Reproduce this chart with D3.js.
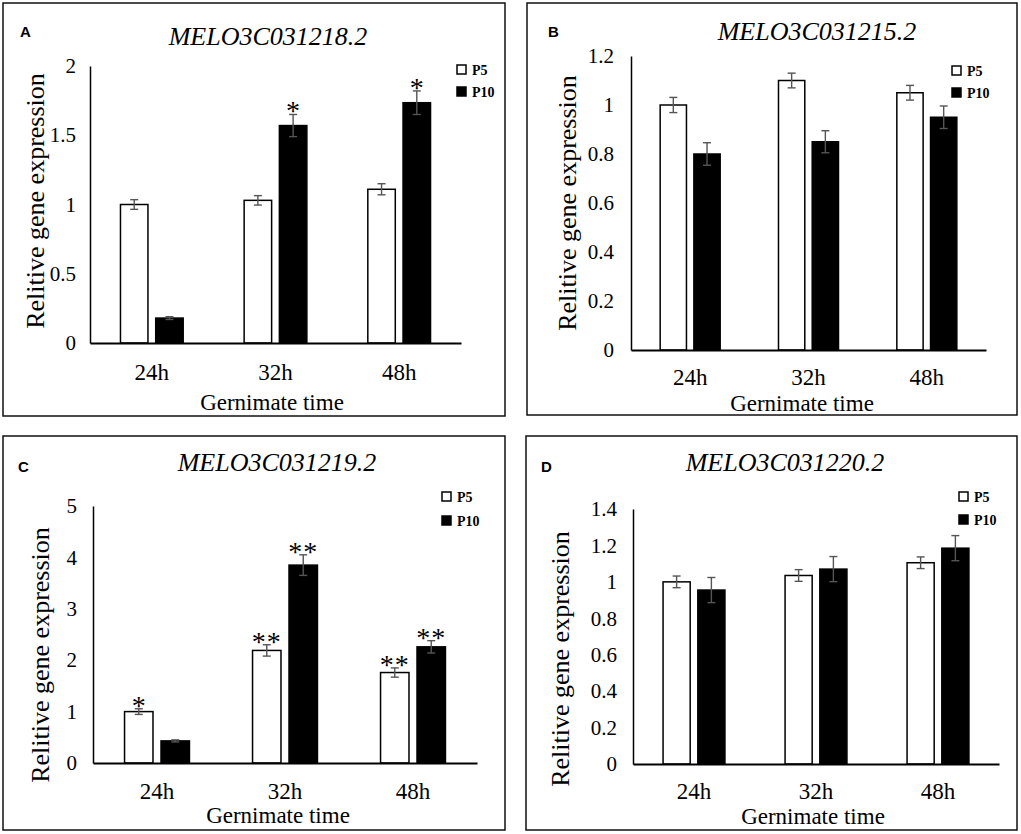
<!DOCTYPE html>
<html>
<head>
<meta charset="utf-8">
<script src="https://cdn.jsdelivr.net/npm/d3@7"></script>
<style>
  body { margin: 0; background: #fff; }
  svg { display: block; }
</style>
</head>
<body>
<svg id="chart" width="1021" height="834"></svg>
<script>
// data
const categories = ['24h', '32h', '48h'];
const seriesNames = ['P5', 'P10'];
const panelTags = ['A', 'B', 'C', 'D'];
const genes = ['MELO3C031218.2', 'MELO3C031215.2', 'MELO3C031219.2', 'MELO3C031220.2'];
const yMaxes = [2, 1.2, 5, 1.4];
const yTickSteps = [0.5, 0.2, 1, 0.2];
const p5Values = [[1.00, 1.03, 1.11], [1.00, 1.10, 1.05], [1.00, 2.19, 1.76], [1.00, 1.035, 1.105]];
const p5Errors = [[0.035, 0.034, 0.04], [0.031, 0.03, 0.03], [0.055, 0.11, 0.09], [0.032, 0.032, 0.032]];
const p10Values = [[0.18, 1.57, 1.735], [0.80, 0.85, 0.95], [0.43, 3.85, 2.26], [0.955, 1.07, 1.185]];
const p10Errors = [[0.01, 0.08, 0.085], [0.046, 0.045, 0.046], [0.02, 0.2, 0.12], [0.069, 0.069, 0.069]];
const p5Marks = [['', '', ''], ['', '', ''], ['*', '**', '**'], ['', '', '']];
const p10Marks = [['', '*', '*'], ['', '', ''], ['', '**', '**'], ['', '', '']];
const xTitle = 'Gernimate time';
const yTitle = 'Relitive gene expression';

const serif = '"Liberation Serif", "Times New Roman", serif';
const sans = '"Liberation Sans", Arial, sans-serif';

// panel geometry
const layout = [
    { frame: [3, 3, 505, 416], plot: [90, 461, 66, 343], title: [268, 45], tag: [20, 37],
      legend: [457, 65, 87], yLab: [36, 201], tickX: 76, xTickY: 380, xLab: [272, 410] },
    { frame: [527, 3, 1017, 415], plot: [631, 986, 56, 350], title: [817, 40], tag: [548, 37],
      legend: [952, 66, 88], yLab: [568, 203], tickX: 614, xTickY: 385, xLab: [802, 411] },
    { frame: [3, 436, 505, 830], plot: [93, 477, 506, 763], title: [277, 471], tag: [18, 472],
      legend: [442, 492, 516], yLab: [41, 655], tickX: 77, xTickY: 799, xLab: [278, 823] },
    { frame: [526, 436, 1017, 830], plot: [633, 999, 509, 764], title: [785, 471], tag: [541, 472],
      legend: [959, 492, 515], yLab: [561, 659], tickX: 617, xTickY: 799, xLab: [813, 824] }
];

const svg = d3.select('#chart');

layout.forEach((L, i) => {
    const g = svg.append('g').attr('class', 'panel');
    const [x0, x1, yTop, y0] = L.plot;

    // frame
    g.append('rect')
        .attr('x', L.frame[0]).attr('y', L.frame[1])
        .attr('width', L.frame[2] - L.frame[0])
        .attr('height', L.frame[3] - L.frame[1])
        .attr('fill', 'none')
        .attr('stroke', '#111')
        .attr('stroke-width', 1.5);

    const xScale = d3.scaleBand()
        .domain(categories)
        .range([x0, x1])
        .padding(0);
    const inner = d3.scaleBand()
        .domain(seriesNames)
        .range([0, xScale.bandwidth()])
        .paddingInner(0.22)
        .paddingOuter(0.865);
    const yScale = d3.scaleLinear()
        .domain([0, yMaxes[i]])
        .range([y0, yTop]);

    const rows = categories.map((c, j) => [
        { cat: c, s: 'P5', v: p5Values[i][j], e: p5Errors[i][j], m: p5Marks[i][j] },
        { cat: c, s: 'P10', v: p10Values[i][j], e: p10Errors[i][j], m: p10Marks[i][j] }
    ]).flat();

    // bars
    g.selectAll('.bar')
        .data(rows)
        .enter()
        .append('rect')
        .attr('class', 'bar')
        .attr('x', d => xScale(d.cat) + inner(d.s))
        .attr('y', d => yScale(d.v))
        .attr('width', inner.bandwidth())
        .attr('height', d => y0 - yScale(d.v))
        .attr('fill', d => d.s === 'P5' ? '#fff' : '#000')
        .attr('stroke', '#000')
        .attr('stroke-width', 1.5);

    // error bars
    const eb = g.selectAll('.err')
        .data(rows)
        .enter()
        .append('g')
        .attr('class', 'err')
        .attr('stroke', '#555')
        .attr('stroke-width', 1.4)
        .attr('transform', d => `translate(${xScale(d.cat) + inner(d.s) + inner.bandwidth() / 2},0)`);
    eb.append('line')
        .attr('y1', d => yScale(d.v + d.e))
        .attr('y2', d => yScale(d.v - d.e));
    eb.append('line')
        .attr('x1', -4).attr('x2', 4)
        .attr('y1', d => yScale(d.v + d.e))
        .attr('y2', d => yScale(d.v + d.e));
    eb.append('line')
        .attr('x1', -4).attr('x2', 4)
        .attr('y1', d => yScale(d.v - d.e))
        .attr('y2', d => yScale(d.v - d.e));

    // significance stars
    g.selectAll('.mark')
        .data(rows.filter(d => d.m))
        .enter()
        .append('text')
        .attr('class', 'mark')
        .attr('x', d => xScale(d.cat) + inner(d.s) + inner.bandwidth() / 2)
        .attr('y', d => yScale(d.v + d.e) + 6)
        .attr('text-anchor', 'middle')
        .attr('font-family', serif)
        .attr('font-size', 28)
        .attr('letter-spacing', d => d.m.length > 1 ? 1 : 0)
        .text(d => d.m);

    // y axis
    const ticks = d3.range(0, yMaxes[i] + yTickSteps[i] / 2, yTickSteps[i]);
    const yAxis = d3.axisLeft(yScale)
        .tickValues(ticks)
        .tickFormat(d => String(+d.toFixed(1)))
        .tickSize(0)
        .tickSizeOuter(0)
        .tickPadding(x0 - L.tickX);
    const yg = g.append('g')
        .attr('transform', `translate(${x0},0)`)
        .call(yAxis);
    yg.select('.domain').attr('stroke', '#000').attr('stroke-width', 1.5);
    yg.selectAll('text')
        .attr('font-family', serif)
        .attr('font-size', 21)
        .attr('fill', '#000');

    // x axis
    const xAxis = d3.axisBottom(xScale)
        .tickSize(0)
        .tickSizeOuter(0)
        .tickPadding(L.xTickY - y0 - 0.71 * 23);
    const xg = g.append('g')
        .attr('transform', `translate(0,${y0})`)
        .call(xAxis);
    xg.select('.domain').attr('stroke', '#000').attr('stroke-width', 2);
    xg.selectAll('text')
        .attr('font-family', serif)
        .attr('font-size', 23)
        .attr('fill', '#000');

    // titles
    g.append('text')
        .attr('x', L.title[0]).attr('y', L.title[1])
        .attr('text-anchor', 'middle')
        .attr('font-family', serif)
        .attr('font-style', 'italic')
        .attr('font-size', 26)
        .text(genes[i]);
    g.append('text')
        .attr('x', L.tag[0]).attr('y', L.tag[1])
        .attr('font-family', sans)
        .attr('font-weight', 'bold')
        .attr('font-size', 15)
        .text(panelTags[i]);
    g.append('text')
        .attr('transform', `translate(${L.yLab[0]},${L.yLab[1]}) rotate(-90)`)
        .attr('dy', '0.3em')
        .attr('text-anchor', 'middle')
        .attr('font-family', serif)
        .attr('font-size', 26)
        .text(yTitle);
    g.append('text')
        .attr('x', L.xLab[0]).attr('y', L.xLab[1])
        .attr('text-anchor', 'middle')
        .attr('font-family', serif)
        .attr('font-size', 23)
        .text(xTitle);

    // legend
    const lg = g.selectAll('.leg')
        .data(seriesNames)
        .enter()
        .append('g')
        .attr('class', 'leg')
        .attr('transform', (d, k) => `translate(${L.legend[0]},${L.legend[k + 1]})`);
    lg.append('rect')
        .attr('width', 9).attr('height', 9)
        .attr('fill', d => d === 'P5' ? '#fff' : '#000')
        .attr('stroke', '#000')
        .attr('stroke-width', 1.5);
    lg.append('text')
        .attr('x', 15).attr('y', 10)
        .attr('font-family', serif)
        .attr('font-weight', 'bold')
        .attr('font-size', 14)
        .text(d => d);
});
</script>
</body>
</html>
